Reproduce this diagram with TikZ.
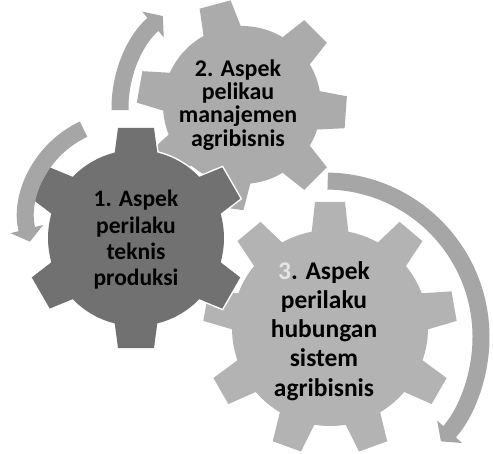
\documentclass[tikz,border=0pt]{standalone}
\usepackage{fontspec}
\setmainfont{Carlito}
\usetikzlibrary{arrows.meta}

\definecolor{gearone}{HTML}{717171}
\definecolor{geartwo}{HTML}{ABABAB}
\definecolor{gearthree}{HTML}{B3B3B3}
\definecolor{arrowgray}{HTML}{A6A6A6}

\begin{document}
\begin{tikzpicture}[x=0.02cm, y=0.02cm,
    gearedge/.style={draw=white, line width=0.06cm},
    arrowband/.style={draw=arrowgray, line width=0.34cm, -{Triangle[length=0.26cm, width=0.66cm]}},
    geartext/.style={align=center, text=black, inner sep=0pt}]
    \useasboundingbox (0,0) rectangle (493,453);
    \fill[white] (0,0) rectangle (493,453);
    % gear 3 (nine teeth)
    \begin{scope}[shift={(330,125)}]
        \foreach \a in {90,130,...,410} \draw[gearedge] [rotate=\a] (90,-19)--(126,-15)--(126,15)--(90,19)--cycle;
        \draw[gearedge] (0,0) circle[radius=98];
        \foreach \a in {90,130,...,410} \fill[gearthree] [rotate=\a] (90,-19)--(126,-15)--(126,15)--(90,19)--cycle;
        \fill[gearthree] (0,0) circle[radius=98];
    \end{scope}
    % gear 2 (seven teeth)
    \begin{scope}[shift={(242,348)}]
        \foreach \a in {105,45,-4,-45,-98,-144,170} \draw[gearedge] [rotate=\a] (70,-20)--(104,-16)--(104,16)--(70,20)--cycle;
        \draw[gearedge] (0,0) circle[radius=79];
        \foreach \a in {105,45,-4,-45,-98,-144,170} \fill[geartwo] [rotate=\a] (70,-20)--(104,-16)--(104,16)--(70,20)--cycle;
        \fill[geartwo] (0,0) circle[radius=79];
    \end{scope}
    % gear 1 (six teeth)
    \begin{scope}[shift={(136,215)}]
        \foreach \a in {30,90,...,330} \draw[gearedge] [rotate=\a] (80,-22)--(110,-18)--(110,18)--(80,22)--cycle;
        \draw[gearedge] (0,0) circle[radius=88];
        \foreach \a in {30,90,...,330} \fill[gearone] [rotate=\a] (80,-22)--(110,-18)--(110,18)--(80,22)--cycle;
        \fill[gearone] (0,0) circle[radius=88];
    \end{scope}
    % curved arrows
    \draw[arrowband] (240,345) ++(181:120) arc[start angle=181, end angle=130, radius=120];
    \draw[arrowband] (125,235) ++(115:98) arc[start angle=115, end angle=194, radius=98];
    \draw[arrowband] (325,116) ++(89:156) arc[start angle=89, end angle=-42, radius=156];
    % labels
    \node[geartext, font=\bfseries\fontsize{13.4}{15}\selectfont] (t1) at (136,213) {1. Aspek\\perilaku\\teknis\\produksi};
    \node[geartext, font=\bfseries\fontsize{13.6}{13.2}\selectfont] (t2) at (238,348) {2. Aspek\\pelikau\\manajemen\\agribisnis};
    \node[geartext, font=\bfseries\fontsize{14.5}{16.6}\selectfont] (t3) at (324,122) {{\color{gray!20}3}. Aspek\\perilaku\\hubungan\\sistem\\agribisnis};
\end{tikzpicture}
\end{document}
